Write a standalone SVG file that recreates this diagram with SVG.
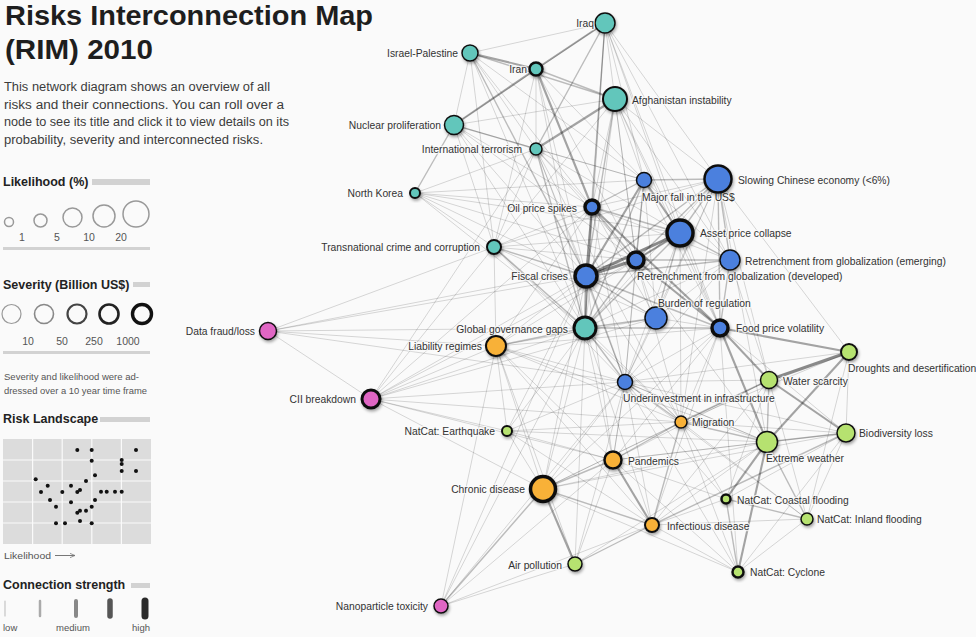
<svg xmlns="http://www.w3.org/2000/svg" width="976" height="637" viewBox="0 0 976 637">
<defs>
<style>
.bg{fill:#fafafa}
.title{font-family:"Liberation Sans",Arial,sans-serif;font-weight:bold;font-size:28px;fill:#1e1e1e}
.desc{font-family:"Liberation Sans",Arial,sans-serif;font-size:12.5px;fill:#3c3c3c}
.head{font-family:"Liberation Sans",Arial,sans-serif;font-weight:bold;font-size:12.5px;fill:#222}
.leg{font-family:"Liberation Sans",Arial,sans-serif;font-size:10.5px;fill:#555}
.small{font-family:"Liberation Sans",Arial,sans-serif;font-size:9.5px;fill:#555}
.bar{fill:#d2d2d2}
.sep{stroke:#d2d2d2;stroke-width:3}
.lk{fill:none;stroke:#999;stroke-width:1.5}
.lbl{font-family:"Liberation Sans",Arial,sans-serif;font-size:10.3px;fill:#333;stroke:#fafafa;stroke-width:2.4px;stroke-opacity:.75;paint-order:stroke;stroke-linejoin:round}
.e1{stroke:#000;stroke-opacity:.15;stroke-width:1}
.e2{stroke:#000;stroke-opacity:.25;stroke-width:1.4}
.e3{stroke:#000;stroke-opacity:.35;stroke-width:2.1}
.e4{stroke:#000;stroke-opacity:.45;stroke-width:3}
.n{stroke:#111;filter:url(#sh)}
.teal{fill:#62c6bb}
.blue{fill:#4b80de}
.orange{fill:#f8b138}
.green{fill:#b6e26f}
.pink{fill:#e066c4}
</style>
<filter id="sh" x="-50%" y="-50%" width="200%" height="200%">
<feDropShadow dx="1" dy="2" stdDeviation="1.5" flood-color="#000" flood-opacity="0.35"/>
</filter>
<marker id="arr" viewBox="0 0 8 8" refX="7" refY="4" markerWidth="6" markerHeight="6" orient="auto">
<path d="M0,1 L7,4 L0,7" fill="none" stroke="#777" stroke-width="1"/>
</marker>
</defs>
<rect class="bg" x="0" y="0" width="976" height="637"/>

<g id="sidebar">
<text class="title" x="5" y="25" textLength="368" lengthAdjust="spacingAndGlyphs">Risks Interconnection Map</text>
<text class="title" x="5" y="59" textLength="148" lengthAdjust="spacingAndGlyphs">(RIM) 2010</text>
<text class="desc" x="4" y="91" textLength="266" lengthAdjust="spacingAndGlyphs">This network diagram shows an overview of all</text>
<text class="desc" x="4" y="108.5" textLength="280" lengthAdjust="spacingAndGlyphs">risks and their connections. You can roll over a</text>
<text class="desc" x="4" y="126" textLength="285" lengthAdjust="spacingAndGlyphs">node to see its title and click it to view details on its</text>
<text class="desc" x="4" y="143.5" textLength="259" lengthAdjust="spacingAndGlyphs">probability, severity and interconnected risks.</text>

<text class="head" x="3" y="186">Likelihood (%)</text>
<rect class="bar" x="92" y="179" width="58" height="6"/>
<circle class="lk" cx="9" cy="222" r="4.5"/>
<circle class="lk" cx="40.5" cy="220.5" r="6.5"/>
<circle class="lk" cx="72.5" cy="217.5" r="9.5"/>
<circle class="lk" cx="104" cy="216" r="11"/>
<circle class="lk" cx="136" cy="214" r="13"/>
<text class="leg" x="22" y="241" text-anchor="middle">1</text>
<text class="leg" x="57" y="241" text-anchor="middle">5</text>
<text class="leg" x="89" y="241" text-anchor="middle">10</text>
<text class="leg" x="121" y="241" text-anchor="middle">20</text>
<line class="sep" x1="3" y1="248.5" x2="150" y2="248.5"/>

<text class="head" x="3" y="289">Severity (Billion US$)</text>
<rect class="bar" x="133" y="282" width="17" height="5"/>
<circle cx="11.5" cy="314" r="9.5" fill="none" stroke="#999" stroke-width="1.2"/>
<circle cx="44" cy="314" r="9.5" fill="none" stroke="#888" stroke-width="1.6"/>
<circle cx="77" cy="314" r="9.5" fill="none" stroke="#444" stroke-width="2.2"/>
<circle cx="109" cy="314" r="9.5" fill="none" stroke="#222" stroke-width="2.6"/>
<circle cx="142" cy="314" r="9.5" fill="none" stroke="#111" stroke-width="3.4"/>
<text class="leg" x="28" y="345" text-anchor="middle">10</text>
<text class="leg" x="62" y="345" text-anchor="middle">50</text>
<text class="leg" x="94" y="345" text-anchor="middle">250</text>
<text class="leg" x="128" y="345" text-anchor="middle">1000</text>
<line class="sep" x1="3" y1="352.5" x2="150" y2="352.5"/>
<text class="small" x="4" y="380" textLength="135" lengthAdjust="spacingAndGlyphs">Severity and likelihood were ad-</text>
<text class="small" x="4" y="394" textLength="143" lengthAdjust="spacingAndGlyphs">dressed over a 10 year time frame</text>

<text class="head" x="3" y="423">Risk Landscape</text>
<rect class="bar" x="100" y="417" width="50" height="5"/>
<rect x="3" y="439" width="148" height="105" fill="#dcdcdc"/>
<g stroke="#fafafa" stroke-width="1.2">
<line x1="32.6" y1="439" x2="32.6" y2="544"/>
<line x1="62.2" y1="439" x2="62.2" y2="544"/>
<line x1="91.8" y1="439" x2="91.8" y2="544"/>
<line x1="121.4" y1="439" x2="121.4" y2="544"/>
<line x1="3" y1="460" x2="151" y2="460"/>
<line x1="3" y1="481" x2="151" y2="481"/>
<line x1="3" y1="502" x2="151" y2="502"/>
<line x1="3" y1="523" x2="151" y2="523"/>
</g>
<g fill="#111">
<circle cx="77.3" cy="450" r="2"/><circle cx="91.7" cy="450" r="2"/><circle cx="136" cy="450" r="2"/>
<circle cx="91.7" cy="460.7" r="2"/><circle cx="121.7" cy="460" r="2"/><circle cx="121.7" cy="464" r="2"/>
<circle cx="121.7" cy="471" r="2"/><circle cx="136" cy="471" r="2"/><circle cx="95" cy="475.3" r="2"/>
<circle cx="35.7" cy="479.3" r="2"/><circle cx="86" cy="481" r="2"/><circle cx="47.7" cy="485.7" r="2"/>
<circle cx="71" cy="485.7" r="2"/><circle cx="80" cy="490" r="2"/><circle cx="77.3" cy="492" r="2"/>
<circle cx="41" cy="492" r="2"/><circle cx="62.3" cy="492" r="2"/><circle cx="101" cy="491.7" r="2"/>
<circle cx="106.7" cy="491.7" r="2"/><circle cx="115" cy="491.7" r="2"/><circle cx="121.7" cy="491.7" r="2"/>
<circle cx="95" cy="500" r="2"/><circle cx="50" cy="500" r="2"/><circle cx="71" cy="502.3" r="2"/>
<circle cx="56" cy="506.7" r="2"/><circle cx="91.7" cy="506.7" r="2"/><circle cx="86" cy="510.7" r="2"/>
<circle cx="80" cy="510.7" r="2"/><circle cx="77.3" cy="512.7" r="2"/><circle cx="56" cy="523.3" r="2"/>
<circle cx="65" cy="523.3" r="2"/><circle cx="80" cy="521" r="2"/><circle cx="91.7" cy="523.3" r="2"/>
</g>
<text class="small" x="4" y="559" textLength="47" lengthAdjust="spacingAndGlyphs">Likelihood</text>
<line x1="55" y1="555.5" x2="75" y2="555.5" stroke="#777" stroke-width="1" marker-end="url(#arr)"/>

<text class="head" x="3" y="589">Connection strength</text>
<rect class="bar" x="131" y="583" width="19" height="5"/>
<g stroke-linecap="round">
<line x1="5" y1="601" x2="5" y2="616" stroke="#c4c4c4" stroke-width="1.2"/>
<line x1="40" y1="601" x2="40" y2="616" stroke="#aaa" stroke-width="2.5"/>
<line x1="76" y1="601" x2="76" y2="616" stroke="#888" stroke-width="4"/>
<line x1="110" y1="601" x2="110" y2="616" stroke="#555" stroke-width="5.5"/>
<line x1="145" y1="601" x2="145" y2="616" stroke="#2a2a2a" stroke-width="7"/>
</g>
<text class="small" x="3" y="631">low</text>
<text class="small" x="73" y="631" text-anchor="middle">medium</text>
<text class="small" x="150" y="631" text-anchor="end">high</text>
</g>

<g id="connectors">
<line class="e1" x1="605" y1="23" x2="470" y2="53"/>
<line class="e2" x1="605" y1="23" x2="536" y2="149"/>
<line class="e1" x1="605" y1="23" x2="586" y2="276"/>
<line class="e1" x1="605" y1="23" x2="718" y2="179"/>
<line class="e1" x1="605" y1="23" x2="680" y2="233"/>
<line class="e1" x1="605" y1="23" x2="730" y2="260"/>
<line class="e1" x1="605" y1="23" x2="644" y2="180"/>
<line class="e1" x1="605" y1="23" x2="720" y2="328"/>
<line class="e1" x1="605" y1="23" x2="454" y2="125"/>
<line class="e2" x1="605" y1="23" x2="592" y2="207"/>
<line class="e3" x1="605" y1="23" x2="536" y2="69"/>
<line class="e1" x1="605" y1="23" x2="585" y2="328"/>
<line class="e1" x1="605" y1="23" x2="636" y2="260"/>
<line class="e3" x1="470" y1="53" x2="536" y2="69"/>
<line class="e2" x1="470" y1="53" x2="615" y2="99"/>
<line class="e1" x1="470" y1="53" x2="454" y2="125"/>
<line class="e1" x1="470" y1="53" x2="536" y2="149"/>
<line class="e1" x1="470" y1="53" x2="494" y2="247"/>
<line class="e2" x1="470" y1="53" x2="586" y2="276"/>
<line class="e1" x1="470" y1="53" x2="585" y2="328"/>
<line class="e1" x1="470" y1="53" x2="592" y2="207"/>
<line class="e1" x1="470" y1="53" x2="644" y2="180"/>
<line class="e3" x1="536" y1="69" x2="454" y2="125"/>
<line class="e2" x1="536" y1="69" x2="615" y2="99"/>
<line class="e3" x1="536" y1="69" x2="592" y2="207"/>
<line class="e1" x1="536" y1="69" x2="536" y2="149"/>
<line class="e1" x1="536" y1="69" x2="586" y2="276"/>
<line class="e1" x1="536" y1="69" x2="585" y2="328"/>
<line class="e1" x1="536" y1="69" x2="494" y2="247"/>
<line class="e1" x1="536" y1="69" x2="644" y2="180"/>
<line class="e1" x1="536" y1="69" x2="636" y2="260"/>
<line class="e3" x1="615" y1="99" x2="536" y2="149"/>
<line class="e1" x1="615" y1="99" x2="454" y2="125"/>
<line class="e1" x1="615" y1="99" x2="592" y2="207"/>
<line class="e2" x1="615" y1="99" x2="586" y2="276"/>
<line class="e1" x1="615" y1="99" x2="585" y2="328"/>
<line class="e1" x1="615" y1="99" x2="718" y2="179"/>
<line class="e1" x1="615" y1="99" x2="730" y2="260"/>
<line class="e1" x1="615" y1="99" x2="680" y2="233"/>
<line class="e1" x1="615" y1="99" x2="494" y2="247"/>
<line class="e1" x1="615" y1="99" x2="644" y2="180"/>
<line class="e1" x1="615" y1="99" x2="720" y2="328"/>
<line class="e1" x1="615" y1="99" x2="636" y2="260"/>
<line class="e2" x1="454" y1="125" x2="415" y2="193"/>
<line class="e2" x1="454" y1="125" x2="536" y2="149"/>
<line class="e1" x1="454" y1="125" x2="585" y2="328"/>
<line class="e1" x1="454" y1="125" x2="494" y2="247"/>
<line class="e1" x1="454" y1="125" x2="586" y2="276"/>
<line class="e1" x1="454" y1="125" x2="592" y2="207"/>
<line class="e1" x1="454" y1="125" x2="644" y2="180"/>
<line class="e1" x1="454" y1="125" x2="636" y2="260"/>
<line class="e1" x1="536" y1="149" x2="494" y2="247"/>
<line class="e2" x1="536" y1="149" x2="585" y2="328"/>
<line class="e1" x1="536" y1="149" x2="586" y2="276"/>
<line class="e1" x1="536" y1="149" x2="592" y2="207"/>
<line class="e1" x1="536" y1="149" x2="625" y2="382"/>
<line class="e1" x1="536" y1="149" x2="636" y2="260"/>
<line class="e1" x1="536" y1="149" x2="681" y2="422"/>
<line class="e1" x1="536" y1="149" x2="415" y2="193"/>
<line class="e1" x1="536" y1="149" x2="644" y2="180"/>
<line class="e1" x1="536" y1="149" x2="371" y2="399"/>
<line class="e1" x1="536" y1="149" x2="680" y2="233"/>
<line class="e1" x1="415" y1="193" x2="586" y2="276"/>
<line class="e1" x1="415" y1="193" x2="585" y2="328"/>
<line class="e1" x1="415" y1="193" x2="592" y2="207"/>
<line class="e1" x1="415" y1="193" x2="644" y2="180"/>
<line class="e1" x1="415" y1="193" x2="494" y2="247"/>
<line class="e1" x1="415" y1="193" x2="680" y2="233"/>
<line class="e1" x1="415" y1="193" x2="636" y2="260"/>
<line class="e2" x1="644" y1="180" x2="718" y2="179"/>
<line class="e2" x1="644" y1="180" x2="592" y2="207"/>
<line class="e3" x1="644" y1="180" x2="680" y2="233"/>
<line class="e3" x1="644" y1="180" x2="586" y2="276"/>
<line class="e2" x1="644" y1="180" x2="636" y2="260"/>
<line class="e1" x1="644" y1="180" x2="730" y2="260"/>
<line class="e2" x1="644" y1="180" x2="585" y2="328"/>
<line class="e1" x1="644" y1="180" x2="656" y2="318"/>
<line class="e1" x1="644" y1="180" x2="720" y2="328"/>
<line class="e1" x1="644" y1="180" x2="625" y2="382"/>
<line class="e2" x1="718" y1="179" x2="680" y2="233"/>
<line class="e2" x1="718" y1="179" x2="730" y2="260"/>
<line class="e2" x1="718" y1="179" x2="636" y2="260"/>
<line class="e2" x1="718" y1="179" x2="586" y2="276"/>
<line class="e1" x1="718" y1="179" x2="592" y2="207"/>
<line class="e1" x1="718" y1="179" x2="656" y2="318"/>
<line class="e2" x1="718" y1="179" x2="720" y2="328"/>
<line class="e1" x1="718" y1="179" x2="585" y2="328"/>
<line class="e1" x1="718" y1="179" x2="625" y2="382"/>
<line class="e1" x1="718" y1="179" x2="769" y2="380"/>
<line class="e1" x1="718" y1="179" x2="849" y2="352"/>
<line class="e1" x1="718" y1="179" x2="681" y2="422"/>
<line class="e1" x1="718" y1="179" x2="494" y2="247"/>
<line class="e1" x1="718" y1="179" x2="767" y2="442"/>
<line class="e3" x1="592" y1="207" x2="586" y2="276"/>
<line class="e2" x1="592" y1="207" x2="680" y2="233"/>
<line class="e2" x1="592" y1="207" x2="636" y2="260"/>
<line class="e3" x1="592" y1="207" x2="720" y2="328"/>
<line class="e2" x1="592" y1="207" x2="585" y2="328"/>
<line class="e1" x1="592" y1="207" x2="656" y2="318"/>
<line class="e1" x1="592" y1="207" x2="730" y2="260"/>
<line class="e1" x1="592" y1="207" x2="625" y2="382"/>
<line class="e1" x1="592" y1="207" x2="767" y2="442"/>
<line class="e1" x1="592" y1="207" x2="494" y2="247"/>
<line class="e1" x1="592" y1="207" x2="496" y2="346"/>
<line class="e4" x1="680" y1="233" x2="586" y2="276"/>
<line class="e3" x1="680" y1="233" x2="636" y2="260"/>
<line class="e2" x1="680" y1="233" x2="730" y2="260"/>
<line class="e2" x1="680" y1="233" x2="656" y2="318"/>
<line class="e2" x1="680" y1="233" x2="585" y2="328"/>
<line class="e1" x1="680" y1="233" x2="720" y2="328"/>
<line class="e1" x1="680" y1="233" x2="625" y2="382"/>
<line class="e1" x1="680" y1="233" x2="496" y2="346"/>
<line class="e1" x1="680" y1="233" x2="494" y2="247"/>
<line class="e1" x1="680" y1="233" x2="681" y2="422"/>
<line class="e4" x1="636" y1="260" x2="586" y2="276"/>
<line class="e2" x1="636" y1="260" x2="730" y2="260"/>
<line class="e2" x1="636" y1="260" x2="585" y2="328"/>
<line class="e1" x1="636" y1="260" x2="656" y2="318"/>
<line class="e3" x1="636" y1="260" x2="720" y2="328"/>
<line class="e1" x1="636" y1="260" x2="625" y2="382"/>
<line class="e1" x1="636" y1="260" x2="494" y2="247"/>
<line class="e1" x1="636" y1="260" x2="681" y2="422"/>
<line class="e2" x1="730" y1="260" x2="586" y2="276"/>
<line class="e2" x1="730" y1="260" x2="720" y2="328"/>
<line class="e1" x1="730" y1="260" x2="656" y2="318"/>
<line class="e1" x1="730" y1="260" x2="585" y2="328"/>
<line class="e1" x1="730" y1="260" x2="625" y2="382"/>
<line class="e1" x1="730" y1="260" x2="769" y2="380"/>
<line class="e3" x1="586" y1="276" x2="585" y2="328"/>
<line class="e2" x1="586" y1="276" x2="656" y2="318"/>
<line class="e2" x1="586" y1="276" x2="625" y2="382"/>
<line class="e2" x1="586" y1="276" x2="494" y2="247"/>
<line class="e1" x1="586" y1="276" x2="496" y2="346"/>
<line class="e2" x1="586" y1="276" x2="720" y2="328"/>
<line class="e1" x1="586" y1="276" x2="613" y2="460"/>
<line class="e1" x1="586" y1="276" x2="543" y2="489"/>
<line class="e1" x1="586" y1="276" x2="681" y2="422"/>
<line class="e1" x1="586" y1="276" x2="371" y2="399"/>
<line class="e1" x1="586" y1="276" x2="268" y2="331"/>
<line class="e1" x1="586" y1="276" x2="507" y2="431"/>
<line class="e2" x1="656" y1="318" x2="585" y2="328"/>
<line class="e1" x1="656" y1="318" x2="720" y2="328"/>
<line class="e1" x1="656" y1="318" x2="625" y2="382"/>
<line class="e1" x1="656" y1="318" x2="496" y2="346"/>
<line class="e1" x1="656" y1="318" x2="494" y2="247"/>
<line class="e1" x1="656" y1="318" x2="371" y2="399"/>
<line class="e2" x1="585" y1="328" x2="494" y2="247"/>
<line class="e2" x1="585" y1="328" x2="496" y2="346"/>
<line class="e2" x1="585" y1="328" x2="625" y2="382"/>
<line class="e2" x1="585" y1="328" x2="720" y2="328"/>
<line class="e1" x1="585" y1="328" x2="371" y2="399"/>
<line class="e1" x1="585" y1="328" x2="681" y2="422"/>
<line class="e1" x1="585" y1="328" x2="613" y2="460"/>
<line class="e1" x1="585" y1="328" x2="543" y2="489"/>
<line class="e1" x1="585" y1="328" x2="507" y2="431"/>
<line class="e1" x1="585" y1="328" x2="652" y2="525"/>
<line class="e1" x1="585" y1="328" x2="268" y2="331"/>
<line class="e1" x1="585" y1="328" x2="441" y2="606"/>
<line class="e1" x1="585" y1="328" x2="575" y2="564"/>
<line class="e3" x1="720" y1="328" x2="769" y2="380"/>
<line class="e3" x1="720" y1="328" x2="849" y2="352"/>
<line class="e3" x1="720" y1="328" x2="767" y2="442"/>
<line class="e1" x1="720" y1="328" x2="681" y2="422"/>
<line class="e1" x1="720" y1="328" x2="625" y2="382"/>
<line class="e1" x1="720" y1="328" x2="846" y2="433"/>
<line class="e1" x1="720" y1="328" x2="613" y2="460"/>
<line class="e1" x1="720" y1="328" x2="543" y2="489"/>
<line class="e1" x1="720" y1="328" x2="652" y2="525"/>
<line class="e1" x1="720" y1="328" x2="738" y2="572"/>
<line class="e1" x1="494" y1="247" x2="268" y2="331"/>
<line class="e1" x1="494" y1="247" x2="371" y2="399"/>
<line class="e1" x1="494" y1="247" x2="496" y2="346"/>
<line class="e1" x1="494" y1="247" x2="625" y2="382"/>
<line class="e1" x1="494" y1="247" x2="681" y2="422"/>
<line class="e4" x1="769" y1="380" x2="849" y2="352"/>
<line class="e3" x1="769" y1="380" x2="846" y2="433"/>
<line class="e2" x1="769" y1="380" x2="767" y2="442"/>
<line class="e2" x1="769" y1="380" x2="681" y2="422"/>
<line class="e1" x1="769" y1="380" x2="625" y2="382"/>
<line class="e1" x1="769" y1="380" x2="613" y2="460"/>
<line class="e1" x1="769" y1="380" x2="543" y2="489"/>
<line class="e1" x1="769" y1="380" x2="652" y2="525"/>
<line class="e1" x1="769" y1="380" x2="807" y2="519"/>
<line class="e1" x1="769" y1="380" x2="726" y2="499"/>
<line class="e3" x1="849" y1="352" x2="767" y2="442"/>
<line class="e1" x1="849" y1="352" x2="846" y2="433"/>
<line class="e1" x1="849" y1="352" x2="625" y2="382"/>
<line class="e1" x1="849" y1="352" x2="807" y2="519"/>
<line class="e1" x1="849" y1="352" x2="681" y2="422"/>
<line class="e2" x1="767" y1="442" x2="846" y2="433"/>
<line class="e3" x1="767" y1="442" x2="726" y2="499"/>
<line class="e2" x1="767" y1="442" x2="807" y2="519"/>
<line class="e3" x1="767" y1="442" x2="738" y2="572"/>
<line class="e2" x1="767" y1="442" x2="681" y2="422"/>
<line class="e1" x1="767" y1="442" x2="652" y2="525"/>
<line class="e1" x1="767" y1="442" x2="613" y2="460"/>
<line class="e1" x1="767" y1="442" x2="625" y2="382"/>
<line class="e1" x1="767" y1="442" x2="543" y2="489"/>
<line class="e1" x1="767" y1="442" x2="507" y2="431"/>
<line class="e1" x1="767" y1="442" x2="575" y2="564"/>
<line class="e1" x1="846" y1="433" x2="681" y2="422"/>
<line class="e1" x1="846" y1="433" x2="807" y2="519"/>
<line class="e1" x1="846" y1="433" x2="726" y2="499"/>
<line class="e2" x1="846" y1="433" x2="652" y2="525"/>
<line class="e1" x1="846" y1="433" x2="613" y2="460"/>
<line class="e1" x1="846" y1="433" x2="738" y2="572"/>
<line class="e1" x1="846" y1="433" x2="625" y2="382"/>
<line class="e1" x1="846" y1="433" x2="543" y2="489"/>
<line class="e2" x1="726" y1="499" x2="807" y2="519"/>
<line class="e2" x1="726" y1="499" x2="738" y2="572"/>
<line class="e1" x1="726" y1="499" x2="681" y2="422"/>
<line class="e1" x1="726" y1="499" x2="625" y2="382"/>
<line class="e1" x1="726" y1="499" x2="652" y2="525"/>
<line class="e1" x1="726" y1="499" x2="613" y2="460"/>
<line class="e1" x1="807" y1="519" x2="738" y2="572"/>
<line class="e1" x1="807" y1="519" x2="681" y2="422"/>
<line class="e1" x1="807" y1="519" x2="652" y2="525"/>
<line class="e1" x1="807" y1="519" x2="625" y2="382"/>
<line class="e1" x1="738" y1="572" x2="652" y2="525"/>
<line class="e1" x1="738" y1="572" x2="681" y2="422"/>
<line class="e1" x1="738" y1="572" x2="625" y2="382"/>
<line class="e1" x1="738" y1="572" x2="543" y2="489"/>
<line class="e1" x1="738" y1="572" x2="613" y2="460"/>
<line class="e2" x1="681" y1="422" x2="613" y2="460"/>
<line class="e2" x1="681" y1="422" x2="652" y2="525"/>
<line class="e2" x1="681" y1="422" x2="625" y2="382"/>
<line class="e1" x1="681" y1="422" x2="543" y2="489"/>
<line class="e1" x1="681" y1="422" x2="507" y2="431"/>
<line class="e1" x1="681" y1="422" x2="496" y2="346"/>
<line class="e3" x1="613" y1="460" x2="652" y2="525"/>
<line class="e2" x1="613" y1="460" x2="543" y2="489"/>
<line class="e1" x1="613" y1="460" x2="625" y2="382"/>
<line class="e1" x1="613" y1="460" x2="575" y2="564"/>
<line class="e1" x1="613" y1="460" x2="507" y2="431"/>
<line class="e1" x1="613" y1="460" x2="496" y2="346"/>
<line class="e1" x1="613" y1="460" x2="441" y2="606"/>
<line class="e2" x1="543" y1="489" x2="652" y2="525"/>
<line class="e3" x1="543" y1="489" x2="575" y2="564"/>
<line class="e2" x1="543" y1="489" x2="441" y2="606"/>
<line class="e1" x1="543" y1="489" x2="496" y2="346"/>
<line class="e1" x1="543" y1="489" x2="625" y2="382"/>
<line class="e1" x1="543" y1="489" x2="507" y2="431"/>
<line class="e2" x1="652" y1="525" x2="575" y2="564"/>
<line class="e1" x1="652" y1="525" x2="625" y2="382"/>
<line class="e1" x1="652" y1="525" x2="496" y2="346"/>
<line class="e1" x1="652" y1="525" x2="441" y2="606"/>
<line class="e1" x1="575" y1="564" x2="441" y2="606"/>
<line class="e1" x1="575" y1="564" x2="625" y2="382"/>
<line class="e1" x1="575" y1="564" x2="496" y2="346"/>
<line class="e1" x1="441" y1="606" x2="586" y2="276"/>
<line class="e1" x1="441" y1="606" x2="496" y2="346"/>
<line class="e1" x1="441" y1="606" x2="625" y2="382"/>
<line class="e1" x1="507" y1="431" x2="625" y2="382"/>
<line class="e1" x1="507" y1="431" x2="371" y2="399"/>
<line class="e1" x1="507" y1="431" x2="496" y2="346"/>
<line class="e1" x1="507" y1="431" x2="652" y2="525"/>
<line class="e1" x1="371" y1="399" x2="268" y2="331"/>
<line class="e1" x1="371" y1="399" x2="496" y2="346"/>
<line class="e1" x1="371" y1="399" x2="625" y2="382"/>
<line class="e1" x1="371" y1="399" x2="592" y2="207"/>
<line class="e1" x1="371" y1="399" x2="613" y2="460"/>
<line class="e1" x1="371" y1="399" x2="543" y2="489"/>
<line class="e1" x1="371" y1="399" x2="681" y2="422"/>
<line class="e1" x1="371" y1="399" x2="636" y2="260"/>
<line class="e1" x1="268" y1="331" x2="496" y2="346"/>
<line class="e1" x1="268" y1="331" x2="625" y2="382"/>
<line class="e1" x1="268" y1="331" x2="636" y2="260"/>
<line class="e1" x1="496" y1="346" x2="625" y2="382"/>
<line class="e1" x1="496" y1="346" x2="767" y2="442"/>
<line class="e1" x1="496" y1="346" x2="720" y2="328"/>
<line class="e1" x1="625" y1="382" x2="613" y2="460"/>
<line class="e1" x1="625" y1="382" x2="767" y2="442"/>
</g>

<g id="node-iraq"><circle class="n teal" cx="605" cy="23" r="10" stroke-width="1.5"/><text class="lbl" x="594" y="27" text-anchor="end">Iraq</text></g>
<g id="node-israel-palestine"><circle class="n teal" cx="470" cy="53" r="8" stroke-width="1.5"/><text class="lbl" x="458" y="57" text-anchor="end">Israel-Palestine</text></g>
<g id="node-iran"><circle class="n teal" cx="536" cy="69" r="6.5" stroke-width="2.5"/><text class="lbl" x="527" y="73" text-anchor="end">Iran</text></g>
<g id="node-afghanistan"><circle class="n teal" cx="615" cy="99" r="12" stroke-width="2"/><text class="lbl" x="632" y="104">Afghanistan instability</text></g>
<g id="node-nuclear"><circle class="n teal" cx="454" cy="125" r="9.5" stroke-width="1.5"/><text class="lbl" x="441" y="129" text-anchor="end">Nuclear proliferation</text></g>
<g id="node-terrorism"><circle class="n teal" cx="536" cy="149" r="6" stroke-width="1.5"/><text class="lbl" x="522" y="153" text-anchor="end">International terrorism</text></g>
<g id="node-north-korea"><circle class="n teal" cx="415" cy="193" r="5" stroke-width="2"/><text class="lbl" x="403" y="197" text-anchor="end">North Korea</text></g>
<g id="node-major-fall-usd"><circle class="n blue" cx="644" cy="180" r="7.5" stroke-width="1.5"/><text class="lbl" x="642" y="200.5">Major fall in the US$</text></g>
<g id="node-slowing-chinese"><circle class="n blue" cx="718" cy="179" r="13.5" stroke-width="2.5"/><text class="lbl" x="738" y="184">Slowing Chinese economy (&lt;6%)</text></g>
<g id="node-oil-price"><circle class="n blue" cx="592" cy="207" r="7" stroke-width="3.5"/><text class="lbl" x="577" y="212" text-anchor="end">Oil price spikes</text></g>
<g id="node-asset-price"><circle class="n blue" cx="680" cy="233" r="13" stroke-width="3.5"/><text class="lbl" x="700" y="237">Asset price collapse</text></g>
<g id="node-retrench-dev"><circle class="n blue" cx="636" cy="260" r="8" stroke-width="3.5"/><text class="lbl" x="637" y="280">Retrenchment from globalization (developed)</text></g>
<g id="node-retrench-em"><circle class="n blue" cx="730" cy="260" r="10" stroke-width="1.5"/><text class="lbl" x="745" y="265">Retrenchment from globalization (emerging)</text></g>
<g id="node-fiscal"><circle class="n blue" cx="586" cy="276" r="11" stroke-width="3.5"/><text class="lbl" x="568" y="280" text-anchor="end">Fiscal crises</text></g>
<g id="node-burden"><circle class="n blue" cx="656" cy="318" r="11" stroke-width="1.5"/><text class="lbl" x="658" y="307">Burden of regulation</text></g>
<g id="node-governance"><circle class="n teal" cx="585" cy="328" r="11" stroke-width="3"/><text class="lbl" x="568" y="333" text-anchor="end">Global governance gaps</text></g>
<g id="node-food-price"><circle class="n blue" cx="720" cy="328" r="8" stroke-width="3.5"/><text class="lbl" x="736" y="332">Food price volatility</text></g>
<g id="node-transnational"><circle class="n teal" cx="494" cy="247" r="7" stroke-width="2"/><text class="lbl" x="480" y="251" text-anchor="end">Transnational crime and corruption</text></g>
<g id="node-data-fraud"><circle class="n pink" cx="268" cy="331" r="8.5" stroke-width="1.5"/><text class="lbl" x="255" y="335" text-anchor="end">Data fraud/loss</text></g>
<g id="node-liability"><circle class="n orange" cx="496" cy="346" r="10" stroke-width="2"/><text class="lbl" x="482" y="350" text-anchor="end">Liability regimes</text></g>
<g id="node-cii"><circle class="n pink" cx="371" cy="399" r="9" stroke-width="3"/><text class="lbl" x="356" y="403" text-anchor="end">CII breakdown</text></g>
<g id="node-underinvestment"><circle class="n blue" cx="625" cy="382" r="7.5" stroke-width="1.5"/><text class="lbl" x="623" y="402">Underinvestment in infrastructure</text></g>
<g id="node-water"><circle class="n green" cx="769" cy="380" r="8.5" stroke-width="1.5"/><text class="lbl" x="783" y="385">Water scarcity</text></g>
<g id="node-droughts"><circle class="n green" cx="849" cy="352" r="8" stroke-width="2"/><text class="lbl" x="848" y="372">Droughts and desertification</text></g>
<g id="node-earthquake"><circle class="n green" cx="507" cy="431" r="5" stroke-width="2"/><text class="lbl" x="495" y="434.5" text-anchor="end">NatCat: Earthquake</text></g>
<g id="node-migration"><circle class="n orange" cx="681" cy="422" r="6" stroke-width="1.5"/><text class="lbl" x="692" y="426">Migration</text></g>
<g id="node-extreme-weather"><circle class="n green" cx="767" cy="442" r="10.5" stroke-width="1.5"/><text class="lbl" x="766" y="462">Extreme weather</text></g>
<g id="node-biodiversity"><circle class="n green" cx="846" cy="433" r="9" stroke-width="1.5"/><text class="lbl" x="859" y="436.5">Biodiversity loss</text></g>
<g id="node-pandemics"><circle class="n orange" cx="613" cy="460" r="8.5" stroke-width="2.5"/><text class="lbl" x="628" y="464.5">Pandemics</text></g>
<g id="node-chronic"><circle class="n orange" cx="543" cy="489" r="12.5" stroke-width="3.5"/><text class="lbl" x="525" y="493" text-anchor="end">Chronic disease</text></g>
<g id="node-coastal"><circle class="n green" cx="726" cy="499" r="4.5" stroke-width="2.5"/><text class="lbl" x="737" y="503.5">NatCat: Coastal flooding</text></g>
<g id="node-infectious"><circle class="n orange" cx="652" cy="525" r="7" stroke-width="2"/><text class="lbl" x="667" y="529.5">Infectious disease</text></g>
<g id="node-inland"><circle class="n green" cx="807" cy="519" r="6" stroke-width="1.5"/><text class="lbl" x="817" y="523">NatCat: Inland flooding</text></g>
<g id="node-air"><circle class="n green" cx="575" cy="564" r="7" stroke-width="1.5"/><text class="lbl" x="562" y="568.5" text-anchor="end">Air pollution</text></g>
<g id="node-cyclone"><circle class="n green" cx="738" cy="572" r="5.5" stroke-width="2.5"/><text class="lbl" x="750" y="576">NatCat: Cyclone</text></g>
<g id="node-nanoparticle"><circle class="n pink" cx="441" cy="606" r="7" stroke-width="1.5"/><text class="lbl" x="428" y="610" text-anchor="end">Nanoparticle toxicity</text></g>
</svg>
